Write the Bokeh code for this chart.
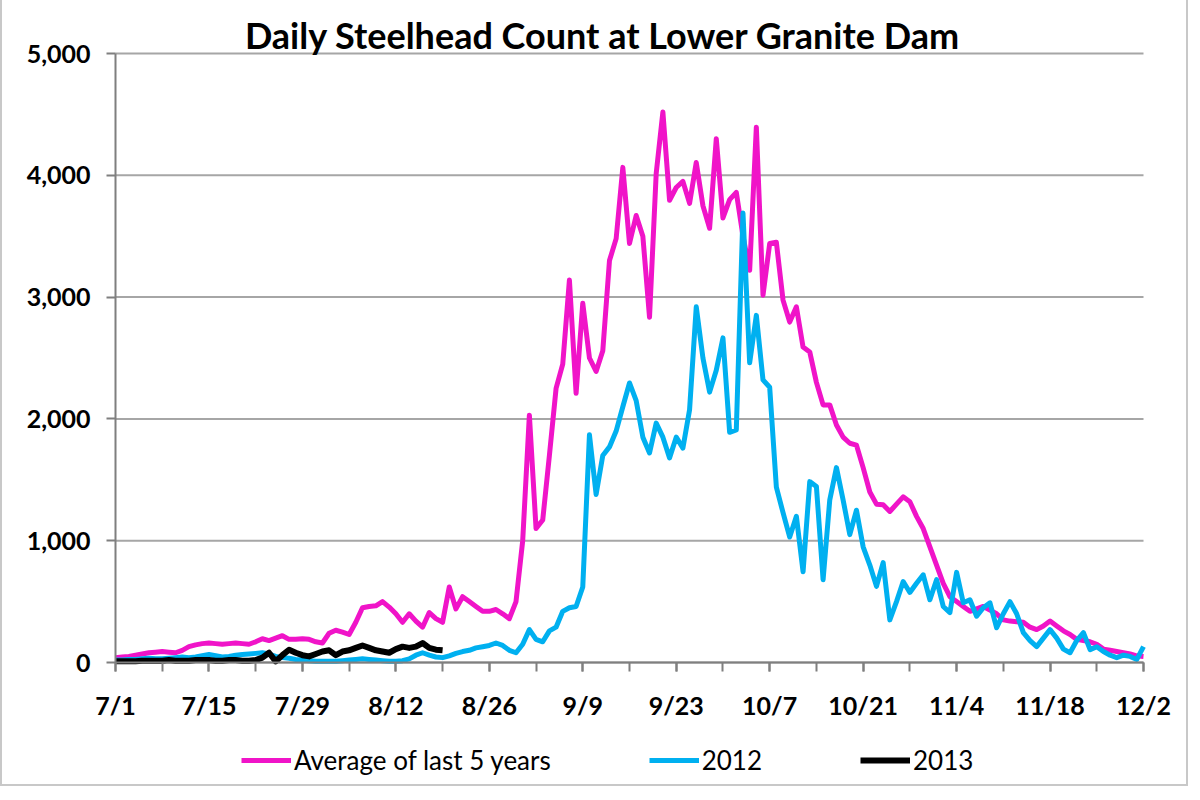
from bokeh.plotting import figure
from bokeh.models import (Range1d, FixedTicker, NumeralTickFormatter, Legend,
                          LegendItem, ColumnDataSource, Label)
from bokeh.embed import file_html
from bokeh.resources import INLINE

## ----- DATA (one value per day from 7/1) ----- ##

TITLE = "Daily Steelhead Count at Lower Granite Dam"

TICK_DAYS = [0, 14, 28, 42, 56, 70, 84, 98, 112, 126, 140, 154]
TICK_LABELS = ["7/1", "7/15", "7/29", "8/12", "8/26", "9/9", "9/23",
               "10/7", "10/21", "11/4", "11/18", "12/2"]
Y_TICKS = [0, 1000, 2000, 3000, 4000, 5000]

avg_5yr = [
    40, 45, 50, 60, 70, 80, 85, 90, 85, 80,
    100, 130, 145, 155, 160, 155, 150, 155, 160, 155,
    150, 170, 195, 180, 200, 220, 190, 190, 195, 190,
    170, 160, 240, 265, 250, 230, 330, 450, 460, 465,
    500, 455, 400, 330, 400, 340, 290, 410, 360, 330,
    620, 440, 540, 500, 460, 420, 420, 435, 400, 360,
    500, 1000, 2030, 1100, 1170, 1700, 2250, 2450, 3140, 2210,
    2950, 2500, 2390, 2560, 3300, 3480, 4065, 3440, 3670, 3500,
    2835, 4015, 4520, 3795, 3900, 3950, 3770, 4105, 3750, 3565,
    4300, 3650, 3800, 3860, 3500, 3220, 4395, 3015, 3440, 3450,
    2975, 2795, 2920, 2590, 2550, 2300, 2115, 2115, 1950, 1850,
    1800, 1785, 1600, 1400, 1300, 1295, 1240, 1300, 1360, 1320,
    1200, 1100, 950, 800, 650, 540, 500, 460, 420, 440,
    460, 430, 400, 350, 340, 335, 330, 290, 270, 300,
    340, 300, 260, 230, 190, 180, 170, 150, 110, 100,
    90, 80, 70, 55, 50,
]

count_2012 = [
    20, 20, 25, 25, 30, 35, 30, 30, 35, 40,
    45, 40, 45, 55, 65, 55, 45, 50, 60, 65,
    70, 75, 80, 70, 50, 40, 35, 25, 20, 15,
    10, 10, 10, 10, 15, 20, 25, 30, 25, 20,
    15, 10, 10, 15, 30, 60, 80, 60, 45, 40,
    55, 75, 90, 100, 120, 130, 140, 160, 140, 100,
    80, 150, 270, 190, 170, 260, 290, 420, 450, 460,
    620, 1870, 1380, 1700, 1770, 1900, 2100, 2295, 2150, 1850,
    1720, 1965, 1850, 1680, 1850, 1760, 2075, 2920, 2500, 2220,
    2400, 2665, 1890, 1910, 3690, 2460, 2850, 2320, 2260, 1440,
    1230, 1030, 1200, 745, 1485, 1445, 680, 1335, 1600, 1335,
    1050, 1250, 950, 800, 625, 820, 350, 500, 665, 575,
    650, 720, 515, 680, 460, 410, 740, 490, 515, 380,
    450, 490, 285, 400, 500, 400, 245, 180, 130, 200,
    270, 200, 110, 80, 180, 245, 105, 130, 90, 60,
    40, 60, 50, 25, 130,
]

count_2013 = [
    10, 10, 10, 10, 15, 15, 15, 15, 20, 15,
    15, 15, 20, 20, 20, 15, 15, 20, 20, 15,
    15, 20, 40, 80, 10, 60, 105, 80, 60, 50,
    70, 90, 100, 60, 90, 100, 120, 140, 120, 100,
    90, 80, 110, 130, 120, 130, 160, 120, 105, 100,
]

C_AVG = "#F014C8"
C_2012 = "#00B0F0"
C_2013 = "#000000"
FONT = "Lato"

## ----- LAYOUT ----- ##
# The plot area fills the whole canvas; the axes sit at day 0 / count 0 and the
# ranges run past them so tick labels, title and legend are not clipped.
W, H = 1188, 786
PX_DAY = 1028 / 154          # 7/1 .. 12/2 spans 1028 px
PX_N = 609 / 5000            # 0 .. 5,000 spans 609 px
X0_PX, Y0_PX = 113, 662      # canvas position of (day 0, count 0)

x_lo = -X0_PX / PX_DAY
x_hi = (W - X0_PX) / PX_DAY
y_hi = Y0_PX / PX_N
y_lo = -(H - Y0_PX) / PX_N

## ----- FIGURE ----- ##

p = figure(width=W, height=H, output_backend="svg", toolbar_location=None,
           x_range=Range1d(x_lo, x_hi), y_range=Range1d(y_lo, y_hi),
           min_border=0)
p.styles = {"border-left": "2px solid #c8c8c8", "border-right": "2px solid #c8c8c8",
            "border-bottom": "2px solid #c8c8c8"}
p.outline_line_color = None
p.xgrid.grid_line_color = None
p.ygrid.grid_line_color = None

# horizontal gridlines, only across the dates
p.segment(x0=TICK_DAYS[0], x1=TICK_DAYS[-1], y0=Y_TICKS, y1=Y_TICKS,
          line_color="#a6a6a6", line_width=2)

src_avg = ColumnDataSource(dict(day=list(range(len(avg_5yr))), n=avg_5yr))
src_12 = ColumnDataSource(dict(day=list(range(len(count_2012))), n=count_2012))
src_13 = ColumnDataSource(dict(day=list(range(len(count_2013))), n=count_2013))

r_avg = p.line("day", "n", source=src_avg, line_color=C_AVG, line_width=5, line_join="round")
r_12 = p.line("day", "n", source=src_12, line_color=C_2012, line_width=5, line_join="round")
r_13 = p.line("day", "n", source=src_13, line_color=C_2013, line_width=6, line_join="round")

# axes
xa = p.xaxis[0]
xa.fixed_location = 0
xa.bounds = (TICK_DAYS[0], TICK_DAYS[-1])
xa.ticker = FixedTicker(ticks=TICK_DAYS, minor_ticks=list(range(0, 155, 7)))
xa.major_label_overrides = dict(zip(TICK_DAYS, TICK_LABELS))
ya = p.yaxis[0]
ya.fixed_location = 0
ya.bounds = (Y_TICKS[0], Y_TICKS[-1])
ya.ticker = FixedTicker(ticks=Y_TICKS, minor_ticks=[])
ya.formatter = NumeralTickFormatter(format="0,0")

for ax in (xa, ya):
    ax.axis_line_color = "#7f7f7f"
    ax.axis_line_width = 2
    ax.major_tick_line_color = "#7f7f7f"
    ax.major_tick_line_width = 2
    ax.minor_tick_line_color = "#7f7f7f"
    ax.minor_tick_line_width = 2
    ax.major_tick_out = 9
    ax.major_tick_in = 0
    ax.minor_tick_out = 9
    ax.minor_tick_in = 0
    ax.major_label_text_font = FONT
    ax.major_label_text_font_style = "bold"
    ax.major_label_text_font_size = "25px"
    ax.major_label_text_color = "#000000"
xa.major_label_standoff = 18
ya.major_label_standoff = 16

# title
p.add_layout(Label(x=73, y=(Y0_PX - 34) / PX_N, text=TITLE,
                   text_align="center", text_baseline="alphabetic",
                   text_font=FONT, text_font_style="bold",
                   text_font_size="36px", text_color="#000000"))

legend = Legend(items=[LegendItem(label="Average of last 5 years", renderers=[r_avg]),
                       LegendItem(label="2012", renderers=[r_12]),
                       LegendItem(label="2013", renderers=[r_13])],
                orientation="horizontal", location=(239, 10),
                glyph_width=50, glyph_height=20, label_height=20,
                label_standoff=3, spacing=98, padding=0, margin=0,
                border_line_color=None, background_fill_alpha=0,
                label_text_font=FONT, label_text_font_size="26px",
                label_text_color="#000000")
p.add_layout(legend, "center")

open("out.html", "w").write(file_html(p, INLINE))
